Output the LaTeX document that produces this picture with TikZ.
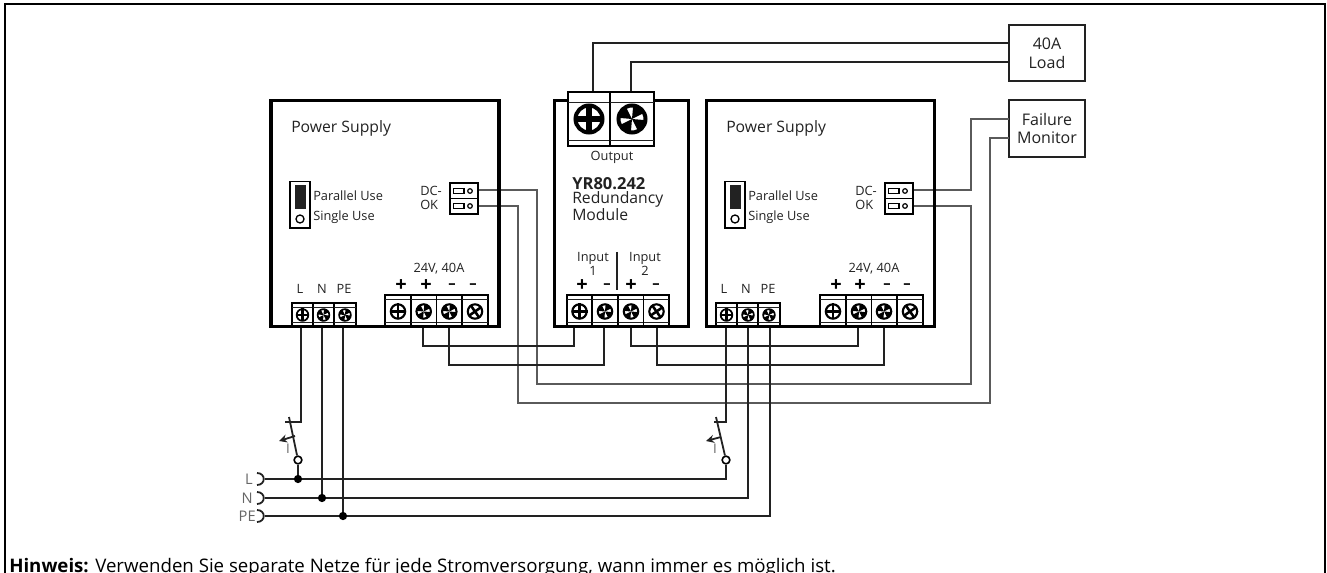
\documentclass[tikz,border=0pt]{standalone}
\usepackage{fontspec}
\setmainfont{Open Sans}
\usetikzlibrary{arrows.meta}
\definecolor{ink}{HTML}{222222}
\definecolor{graywire}{HTML}{5A5A5A}
\definecolor{graytext}{HTML}{666666}
\tikzset{
  framebox/.style={draw=black,line width=1.5pt},
  unitbox/.style={draw=black,line width=2.3pt},
  loadbox/.style={draw=ink,line width=1.3pt,fill=white,align=center,font=\fontsize{12}{14.2}\selectfont,text=ink,inner sep=0pt,minimum width=57pt,minimum height=42.5pt},
  wire/.style={draw=ink,line width=1.35pt},
  graywireline/.style={draw=graywire,line width=1.35pt},
  lbl/.style={font=\fontsize{11.8}{14}\selectfont,text=ink,inner sep=0pt},
  smalllbl/.style={font=\fontsize{9.6}{10.5}\selectfont,text=ink,inner sep=0pt},
  sign/.style={font=\bfseries\fontsize{15}{15}\selectfont,text=black,inner sep=0pt},
  dash sign/.style={font=\bfseries\fontsize{11}{11}\selectfont,text=black,inner sep=0pt},
  netlbl/.style={font=\fontsize{11}{12}\selectfont,text=graytext,inner sep=0pt},
  dot/.style={circle,fill=black,inner sep=0pt,minimum size=6.2pt},
  eye/.style={circle,draw=black,fill=white,line width=1.2pt,inner sep=0pt,minimum size=5.8pt},
}
\newcommand{\screwhead}[4]{%
  \begin{scope}[shift={(#1,#2)}]
    \fill[white] (0,0) circle[radius=#3];
    \ifcase#4
      \draw[line width={#3*0.26pt},line cap=butt] (-#3,0) -- (#3,0) (0,-#3) -- (0,#3);
    \or
      \foreach \a in {5,95,185,275}
        \fill[black] (0,0) -- (\a:#3) -- (\a+58:#3) -- cycle;
    \or
      \draw[line width={#3*0.24pt}] (55:#3) -- (235:#3) (145:#3) -- (325:#3);
    \fi
    \draw[line width={#3*0.2pt}] (0,0) circle[radius=#3*0.9];
  \end{scope}}
\newcommand{\termcell}[6]{%
  \draw[fill=white,line width=1pt] (#1,#3) rectangle (#2,#4);
  \draw[line width=.7pt,draw=ink] (#1,#5) -- (#2,#5) (#1,#6) -- (#2,#6);}
\begin{document}
\begin{tikzpicture}[x=0.75pt,y=-0.75pt]
\useasboundingbox (0,0) rectangle (1327,573);
\clip (0,0) rectangle (1327,573);
\draw[framebox] (5,4) rectangle (1325,600);

% anchors
\coordinate (ldc1) at (478,190); \coordinate (ldc2) at (478,206);
\coordinate (rdc1) at (913,190); \coordinate (rdc2) at (913,206);
\coordinate (lp) at (423,327);  \coordinate (lm) at (449,327);
\coordinate (rp) at (858,327);  \coordinate (rm) at (884,327);
\coordinate (i1p) at (574,327); \coordinate (i1m) at (604,327);
\coordinate (i2p) at (631,327); \coordinate (i2m) at (657,327);
\coordinate (op) at (593,92);   \coordinate (om) at (631,92);
\coordinate (lL) at (301,327);  \coordinate (lN) at (322,327); \coordinate (lPE) at (343,327);
\coordinate (rL) at (726,327);  \coordinate (rN) at (748,327); \coordinate (rPE) at (770,327);

% boxes for load and monitor
\node[loadbox] (load) at (1047,53) {40A\\Load};
\node[loadbox] (mon) at (1047,128.5) {Failure\\Monitor};
\coordinate (load1) at (1009,43);  \coordinate (load2) at (1009,62);
\coordinate (mon1) at (1009,119);  \coordinate (mon2) at (1009,138);

% grey signal wires
\draw[graywireline] (ldc1) -- (537,190) -- (537,384) -- (971,384) -- (971,206) -- (rdc2);
\draw[graywireline] (ldc2) -- (518,206) -- (518,403) -- (990,403) -- (990,138) -- (mon2);
\draw[graywireline] (rdc1) -- (971,190) -- (971,119) -- (mon1);

% dc wires
\draw[wire] (lp) -- (423,346) -| (i1p);
\draw[wire] (lm) -- (449,365) -| (i1m);
\draw[wire] (i2p) -- (631,346) -| (rp);
\draw[wire] (i2m) -- (657,365) -| (rm);
\draw[wire] (op) -- (593,43) -- (load1);
\draw[wire] (om) -- (631,62) -- (load2);

% mains
\node[dot] (dL) at (298,479) {};
\node[dot] (dN) at (322,498) {};
\node[dot] (dPE) at (343,516) {};
\coordinate (netL) at (265,479); \coordinate (netN) at (265,498); \coordinate (netPE) at (265,516);
\node[eye] (swl) at (298,460) {};
\node[eye] (swr) at (726,460) {};
\draw[wire] (netL) -- (dL) -- (726,479) -- (swr);
\draw[wire] (netN) -- (dN) -- (748,498) -- (rN);
\draw[wire] (netPE) -- (dPE) -- (770,516) -- (rPE);
\draw[wire] (swl) -- (dL);
\draw[wire] (lN) -- (dN);
\draw[wire] (lPE) -- (dPE);
\draw[wire] (lL) -- (301,422) -- (285,422);
\draw[wire] (rL) -- (726,422) -- (714,422);
% switches
\draw[wire] (289,417) -- (swl);
\draw[wire] (716,417) -- (swr);
\draw[wire,-{Stealth[length=6pt,width=6pt]}] (295,436) -- (279,441);
\draw[wire,-{Stealth[length=6pt,width=6pt]}] (721,437) -- (706,441);
\node[netlbl,font=\fontsize{10}{10}\selectfont] (il) at (288,449) {I};
\node[netlbl,font=\fontsize{10}{10}\selectfont] (ir) at (715,449) {I};
% net brackets
\foreach \yy in {479,498,516}
  \draw[wire] (257,\yy-6) .. controls (266,\yy-6) and (266,\yy+6) .. (257,\yy+6);
\node[netlbl,anchor=east] (tL) at (253,479) {L};
\node[netlbl,anchor=east] (tN) at (253,498) {N};
\node[netlbl,anchor=east] (tPE) at (256,516) {PE};

% units
\node[unitbox,minimum width=171pt,minimum height=170pt,inner sep=0pt] (psl) at (385,213.5) {};
\node[unitbox,minimum width=100pt,minimum height=170pt,inner sep=0pt] (mod) at (621.5,213.5) {};
\node[unitbox,minimum width=170.5pt,minimum height=170pt,inner sep=0pt] (psr) at (820.5,213.5) {};

% terminals
\foreach \xa/\xb/\xc/\t in {385/411/398/0,411/436.5/423.7/1,436.5/462/449.3/1,462/488/475/2,
                           567/592/579.5/0,592/618/605/1,618/643.5/631/1,643.5/669/656.5/2,
                           820/846/833/0,846/871.5/859/1,871.5/897/884/1,897/923/910/2}{
  \termcell{\xa}{\xb}{295}{326}{299.5}{322}
  \screwhead{\xc}{311.5}{8}{\t}
}
\foreach \xa/\xb/\xc/\t in {292/313/302.5/0,313/334/323.5/1,334/356/345/1,
                           716/737/726.5/0,737/758/748/1,758/780/769/1}{
  \termcell{\xa}{\xb}{303}{326}{307.5}{322.5}
  \screwhead{\xc}{315}{6.5}{\t}
}
\foreach \xa/\xb/\xc/\t in {568/610/589/0,610/654/632/1}{
  \termcell{\xa}{\xb}{92}{146}{102}{140}
  \screwhead{\xc}{119}{15}{\t}
}

% jumpers
\foreach \xx/\n in {290/jl,725/jr}{
  \draw[line width=1.1pt,fill=white] (\xx,181.5) rectangle (\xx+20,228);
  \fill[ink] (\xx+5,185) rectangle (\xx+16,209);
  \draw[line width=1pt] (\xx+10,219) circle[radius=4];
}
% DC-OK connectors
\foreach \xx in {450,885}{
  \draw[line width=1.1pt,fill=white] (\xx,183) rectangle (\xx+28,214);
  \draw[line width=1.1pt] (\xx,198.5) -- (\xx+28,198.5);
  \foreach \yy in {191,206}{
    \draw[line width=.9pt] (\xx+3.5,\yy-2.8) rectangle (\xx+14,\yy+2.8);
    \draw[line width=.9pt] (\xx+20,\yy) circle[radius=2.3];
  }
}

% texts unit left
\node[lbl,anchor=west] (pst1) at (291,128) {Power Supply};
\node[smalllbl,anchor=west] (pu1) at (313,196) {Parallel Use};
\node[smalllbl,anchor=west] (su1) at (313,217) {Single Use};
\node[smalllbl,anchor=west] (dc1) at (420,191) {DC-};
\node[smalllbl,anchor=west] (ok1) at (420,205) {OK};
\node[smalllbl] (v1) at (439,269) {24V, 40A};
\node[smalllbl] (l1) at (300,289) {L};
\node[smalllbl] (n1) at (322,289) {N};
\node[smalllbl] (pe1) at (344,289) {PE};
\node[sign] (s1a) at (401,286) {+};
\node[sign] (s1b) at (426,286) {+};
\node[dash sign] (s1c) at (452,286) {–};
\node[dash sign] (s1d) at (473,286) {–};
% texts unit right
\node[lbl,anchor=west] (pst2) at (726,128) {Power Supply};
\node[smalllbl,anchor=west] (pu2) at (748,196) {Parallel Use};
\node[smalllbl,anchor=west] (su2) at (748,217) {Single Use};
\node[smalllbl,anchor=west] (dc2) at (855,191) {DC-};
\node[smalllbl,anchor=west] (ok2) at (855,205) {OK};
\node[smalllbl] (v2) at (874,269) {24V, 40A};
\node[smalllbl] (l2) at (724,289) {L};
\node[smalllbl] (n2) at (746,289) {N};
\node[smalllbl] (pe2) at (768,289) {PE};
\node[sign] (s2a) at (836,286) {+};
\node[sign] (s2b) at (860,286) {+};
\node[dash sign] (s2c) at (887,286) {–};
\node[dash sign] (s2d) at (907,286) {–};
% texts module
\node[smalllbl] (out) at (612,157) {Output};
\node[lbl,anchor=west,font=\bfseries\fontsize{12.4}{14}\selectfont] (yr) at (572,184) {YR80.242};
\node[lbl,anchor=west,align=left,font=\fontsize{11.8}{11.2}\selectfont] (rm) at (572,206.5) {Redundancy\\Module};
\node[smalllbl,align=center,font=\fontsize{9.6}{10}\selectfont] (in1) at (593,264) {Input\\1};
\node[smalllbl,align=center,font=\fontsize{9.6}{10}\selectfont] (in2) at (645,264) {Input\\2};
\draw[line width=.8pt,draw=ink] (617,252) -- (617,290);
\node[sign] (m1) at (582,286) {+};
\node[dash sign] (m2) at (607,286) {–};
\node[sign] (m3) at (631,286) {+};
\node[dash sign] (m4) at (656,286) {–};

\node[anchor=base west,inner sep=0pt,font=\fontsize{14}{14}\selectfont,text=black] (note) at (9,572) {\textbf{Hinweis:} Verwenden Sie separate Netze für jede Stromversorgung, wann immer es möglich ist.};
\end{tikzpicture}
\end{document}
